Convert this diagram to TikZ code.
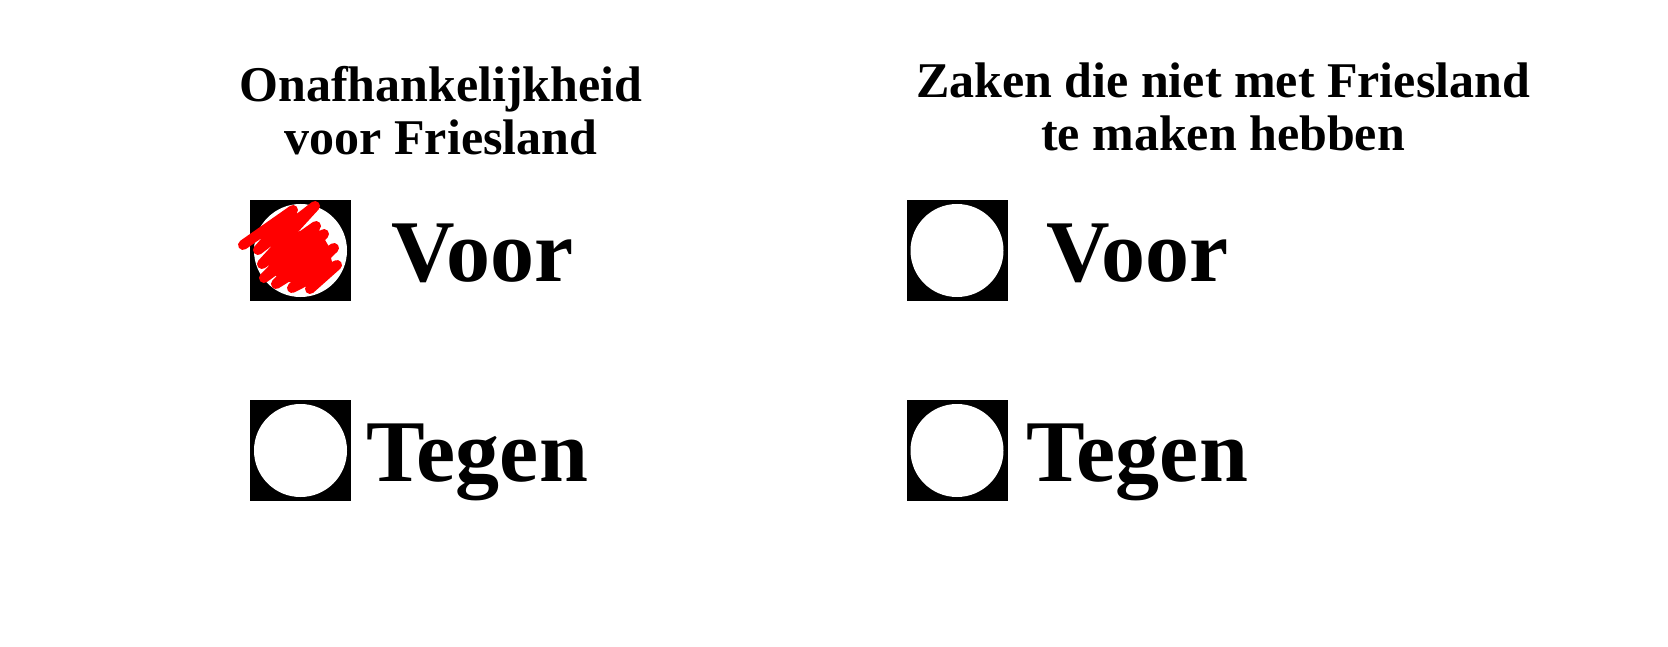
\documentclass[tikz,border=0pt]{standalone}
\usepackage{fontspec}
\setmainfont{Liberation Serif}
\begin{document}
\begin{tikzpicture}[x=1pt,y=-1pt,
  title/.style={font=\fontsize{50}{53}\selectfont\bfseries, align=center, inner sep=0pt, anchor=base},
  choice/.style={font=\fontsize{88}{90}\selectfont\bfseries, inner sep=0pt, anchor=base west},
  boxsq/.style={fill=black, draw=none, minimum size=101pt, inner sep=0pt},
  scribble/.style={draw=red, line width=10pt, line cap=round, line join=round}]
\useasboundingbox (0,0) rectangle (1668,647);
\fill[white] (0,0) rectangle (1668,647);
% titles
\node[title] (t1) at (441,155) {Onafhankelijkheid\\voor Friesland};
\node[title] (t2) at (1223,151) {Zaken die niet met Friesland\\te maken hebben};
% boxes
\node[boxsq] (b1) at (300.5,250.5) {};
\node[boxsq] (b2) at (300.5,450.5) {};
\node[boxsq] (b3) at (957,250.5) {};
\node[boxsq] (b4) at (957,450.5) {};
\foreach \b in {b1,b2,b3,b4}{\fill[white] (\b.center) circle (46.5);}
% labels
\node[choice] (v1) at (391,281) {Voor};
\node[choice] (g1) at (366,481) {Tegen};
\node[choice] (v2) at (1046,281) {Voor};
\node[choice] (g2) at (1026,481) {Tegen};
% red scribble
\fill[red] (268,268) -- (275,245) -- (295,232) -- (318,228) -- (328,245) -- (332,262) -- (318,282) -- (298,284) -- (280,280) -- cycle;
\draw[scribble] (243,245) -- (293,210) -- (258,250) -- (315,206) -- (262,264) -- (316,226)
  -- (264,278) -- (324,234) -- (276,284) -- (334,248) -- (292,288) -- (337,265) -- (310,289);
\end{tikzpicture}
\end{document}
